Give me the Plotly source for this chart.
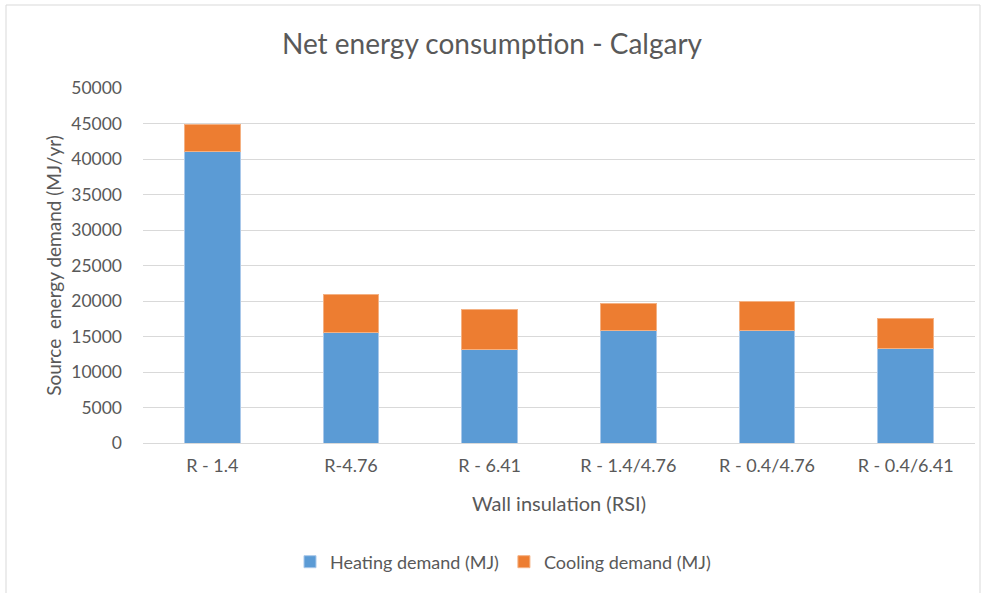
import plotly.graph_objects as go

categories = ["R - 1.4", "R-4.76", "R - 6.41", "R - 1.4/4.76", "R - 0.4/4.76", "R - 0.4/6.41"]
heating = [41000, 15600, 13200, 15800, 15800, 13300]
cooling = [3800, 5300, 5600, 3900, 4100, 4300]

font_family = "Lato, 'Open Sans', sans-serif"
text_color = "#595959"

fig = go.Figure()
fig.add_trace(go.Bar(name="Heating demand (MJ)", x=categories, y=heating,
                     marker=dict(color="#5b9bd5", line=dict(color="#a9c8ea", width=1))))
fig.add_trace(go.Bar(name="Cooling demand (MJ)", x=categories, y=cooling,
                     marker=dict(color="#ed7d31", line=dict(color="#f4b183", width=1))))

L, R, T, B = 143, 9, 88, 150
W, H = 984, 593
pw, ph = W - L - R, H - T - B

fig.update_layout(
    barmode="stack",
    bargap=0.6,
    width=W, height=H,
    margin=dict(l=L, r=R, t=T, b=B),
    paper_bgcolor="white",
    plot_bgcolor="white",
    font=dict(family=font_family, color=text_color, size=17),
    title=dict(text="Net energy consumption - Calgary", x=0.5, xanchor="center",
               y=1 - 44 / H, yanchor="middle",
               font=dict(size=28, color=text_color, family=font_family)),
    xaxis=dict(title=dict(text="Wall insulation (RSI)", standoff=21,
                          font=dict(size=20, color=text_color)),
               showgrid=False, showline=False, ticks="", ticklabelstandoff=10,
               tickfont=dict(size=18, color=text_color)),
    yaxis=dict(title=dict(text="Source  energy demand (MJ/yr)", standoff=4,
                          font=dict(size=19, color=text_color)),
               range=[0, 50000], dtick=5000, tickformat="d",
               showgrid=True, gridcolor="#d9d9d9", gridwidth=1,
               zeroline=True, zerolinecolor="#d9d9d9", zerolinewidth=1,
               ticks="", ticklabelstandoff=20,
               tickfont=dict(size=17.5, color=text_color)),
    legend=dict(orientation="h", x=(503 - L) / pw, xanchor="center",
                y=-(562 - (H - B)) / ph, yanchor="middle",
                font=dict(size=18, color=text_color), traceorder="normal",
                itemwidth=30),
    shapes=[dict(type="rect", xref="paper", yref="paper",
                 x0=(6 - L) / pw, x1=(980 - L) / pw,
                 y0=-(H + 5 - (H - B)) / ph, y1=1 + (T - 5) / ph,
                 line=dict(color="#d9d9d9", width=1), fillcolor="rgba(0,0,0,0)",
                 layer="below")],
)

fig.write_html("out.html")
